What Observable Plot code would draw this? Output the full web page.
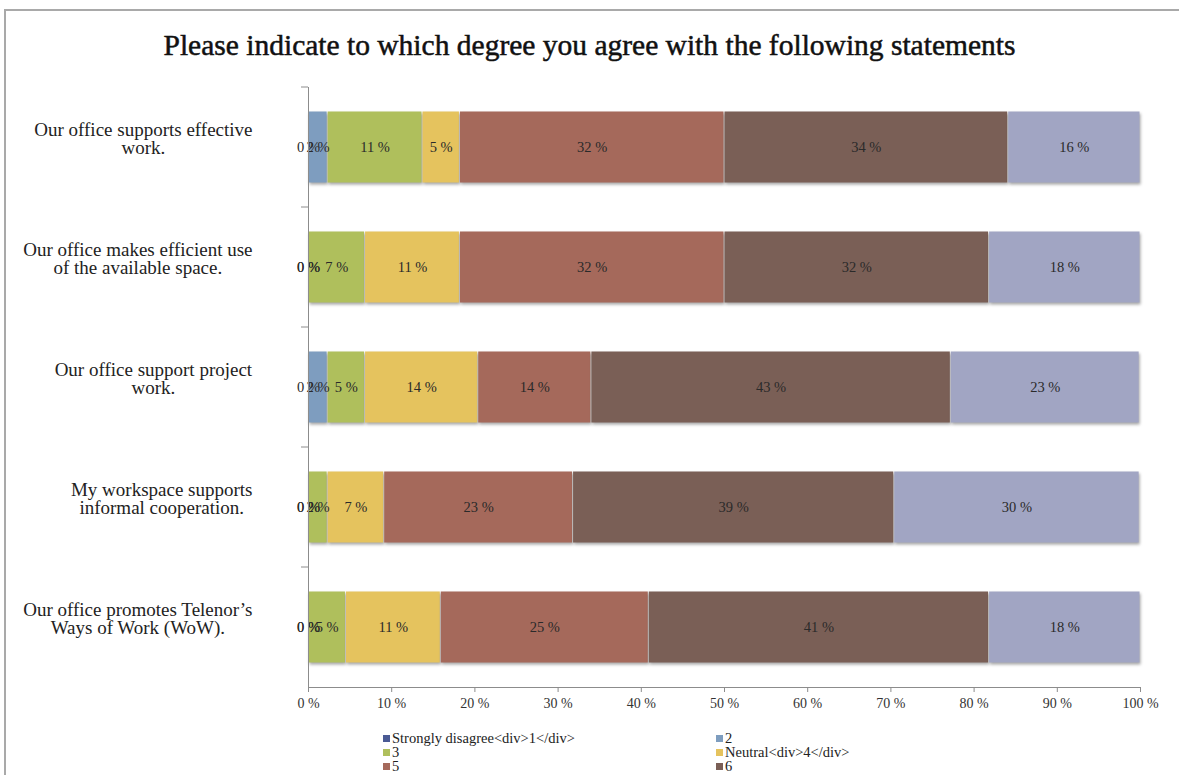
<!DOCTYPE html>
<html>
<head>
<meta charset="utf-8">
<script src="https://cdn.jsdelivr.net/npm/d3@7"></script>
<script src="https://cdn.jsdelivr.net/npm/@observablehq/plot@0.6"></script>
<style>
  html, body { margin: 0; padding: 0; background: #fff; width: 1179px; height: 775px; overflow: hidden; }
  #frame { position: absolute; left: 4px; top: 9px; width: 1175px; height: 800px;
           border-top: 2px solid #a9a9a9; border-left: 2px solid #a9a9a9; box-sizing: border-box; }
  #title { position: absolute; left: 0; top: 27px; width: 1179px; text-align: center; line-height: 36px;
           font-family: "Liberation Serif", serif; font-size: 29.5px; font-weight: normal; color: #111;
           -webkit-text-stroke: 0.5px #111; }
  #chart { position: absolute; left: 0; top: 80px; }
  #legend { position: absolute; left: 0; top: 731px; width: 1179px; height: 44px; overflow: hidden;
            font-family: "Liberation Serif", serif; font-size: 14.5px; color: #222; }
  .li { position: absolute; white-space: nowrap; line-height: 14px; }
  .sw { display: inline-block; width: 7px; height: 7px; margin-right: 2px; vertical-align: 1px; }
</style>
</head>
<body>
<div id="frame"></div>
<div id="title">Please indicate to which degree you agree with the following statements</div>
<div id="chart"></div>
<div id="legend"></div>
<script>
// Statements (y categories)
const statements = [
  "Our office supports effective\nwork.",
  "Our office makes efficient use\nof the available space.",
  "Our office support project\nwork.",
  "My workspace supports\ninformal cooperation.",
  "Our office promotes Telenor\u2019s\nWays of Work (WoW)."
];
// Response levels (series)
const levels = [
  "Strongly disagree<div>1</div>",
  "2",
  "3",
  "Neutral<div>4</div>",
  "5",
  "6",
  "Strongly agree<div>7</div>"
];
const levelColors = ["#4a5a94", "#7e9dbf", "#afbf5c", "#e5c35e", "#a5695b", "#7a5f56", "#a1a5c3"];
// Shares (%) per level, one value per statement
const level1 = [0, 0, 0, 0, 0];
const level2 = [2.3, 0, 2.3, 0, 0];
const level3 = [11.4, 6.8, 4.5, 2.3, 4.5];
const level4 = [4.5, 11.4, 13.6, 6.8, 11.4];
const level5 = [31.8, 31.8, 13.6, 22.7, 25.0];
const level6 = [34.1, 31.8, 43.2, 38.6, 40.9];
const level7 = [15.9, 18.2, 22.7, 29.5, 18.2];
const xTicks = [0, 10, 20, 30, 40, 50, 60, 70, 80, 90, 100];

const series = [level1, level2, level3, level4, level5, level6, level7];
const data = [];
statements.forEach((s, i) => {
  series.forEach((vals, j) => {
    data.push({statement: s, level: levels[j], li: j, value: vals[i]});
  });
});
const barData = data.filter(d => d.value > 0);

const chart = Plot.plot({
  width: 1179,
  height: 640,
  marginLeft: 308,
  marginRight: 39,
  marginTop: 7,
  marginBottom: 33,
  style: {fontFamily: "'Liberation Serif', serif", background: "transparent"},
  x: {domain: [0, 100], axis: null},
  y: {domain: statements, paddingInner: 0.40, paddingOuter: 0.20, axis: null},
  color: {domain: levels, range: levelColors},
  marks: [
    Plot.barX(barData, Plot.stackX({x: "value", y: "statement", fill: "level", order: "li", inset: 0.5})),
    Plot.text(data, Plot.stackX({x: "value", y: "statement", order: "li",
      text: d => Math.round(d.value) + " %", fill: "#2a2a2a", fontSize: 14.5})),
    Plot.ruleX([0], {stroke: "#8c8c8c"}),
    Plot.frame({anchor: "bottom", stroke: "#8c8c8c"}),
    Plot.axisX({ticks: xTicks, tickFormat: d => d + " %", tickSize: 5, tickPadding: 6,
      fontSize: 14, stroke: "#8c8c8c", color: "#333", label: null}),
    Plot.axisY({tickSize: 0, tickPadding: 56, fontSize: 19, color: "#222", lineHeight: 0.95,
      dy: -8, label: null})
  ]
});
document.getElementById("chart").appendChild(chart);

// bar shading
d3.select(chart).selectAll("g[aria-label='bar'] rect")
  .style("filter", "drop-shadow(1px 2px 1.5px rgba(0,0,0,0.35))");

// Category boundary ticks on the y axis (derived from the band scale)
const ys = chart.scale("y");
const centers = statements.map(s => ys.apply(s) + ys.bandwidth / 2);
const step = centers[1] - centers[0];
const boundaries = [centers[0] - step / 2, ...centers.map(c => c + step / 2)];
const xs = chart.scale("x");
const x0 = xs.apply(0);
const svg = d3.select(chart);
svg.append("g").selectAll("line").data(boundaries.slice(0, -1)).join("line")
  .attr("x1", x0 - 7).attr("x2", x0).attr("y1", d => d).attr("y2", d => d)
  .attr("stroke", "#8c8c8c");

// Center multi-line y labels within their right-aligned block
svg.selectAll("g[aria-label='y-axis tick label'] text").each(function() {
  const w = this.getBBox().width;
  this.setAttribute("text-anchor", "middle");
  this.style.textAnchor = "middle";
  d3.select(this).selectAll("tspan").attr("x", -w / 2);
  if (d3.select(this).selectAll("tspan").empty()) this.setAttribute("x", -w / 2);
});

// Legend
const legend = document.getElementById("legend");
const colX = [383, 716];
levels.forEach((lv, i) => {
  const item = document.createElement("div");
  item.className = "li";
  item.style.left = colX[i % 2] + "px";
  item.style.top = (Math.floor(i / 2) * 14) + "px";
  const sw = document.createElement("span");
  sw.className = "sw";
  sw.style.background = levelColors[i];
  item.appendChild(sw);
  item.appendChild(document.createTextNode(lv));
  legend.appendChild(item);
});
</script>
</body>
</html>
